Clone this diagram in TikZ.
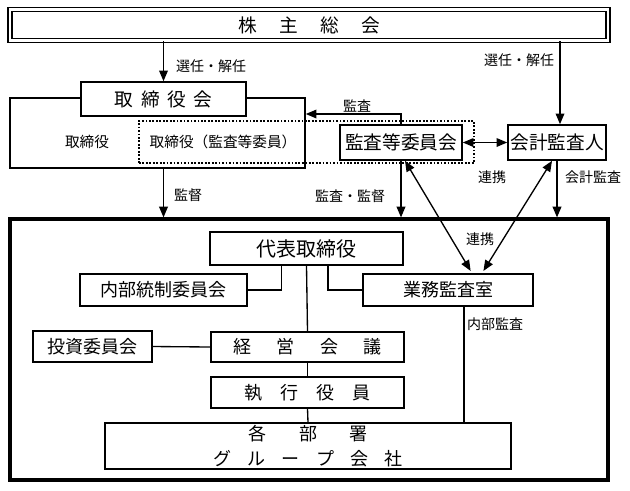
\documentclass[tikz,border=0pt]{standalone}
\usepackage{fontspec}
\setmainfont{Noto Sans CJK JP}
\usetikzlibrary{arrows.meta}
\begin{document}
\begin{tikzpicture}[x=0.75pt,y=-0.75pt,
  wh/.style 2 args={minimum width=#1*0.75pt, minimum height=#2*0.75pt},
  bx/.style={draw, line width=1.2pt, fill=white, inner sep=0pt, font=\fontsize{14}{16}\selectfont},
  mbx/.style={bx, font=\fontsize{13.5}{16}\selectfont},
  lbl/.style={inner sep=0pt, font=\fontsize{10.5}{12}\selectfont},
  arr/.style={line width=1pt, -{Triangle[length=8pt,width=6.5pt]}},
  dblarr/.style={line width=1pt, {Triangle[length=8pt,width=6.5pt]}-{Triangle[length=8pt,width=6.5pt]}},
  ln/.style={line width=1pt}]
\useasboundingbox (0,0) rectangle (630,490);
% shareholders
\node[draw, double, double distance=1.6pt, line width=1.3pt, wh={598}{31}, inner sep=0pt,
  font=\fontsize{14}{16}\selectfont] (gm) at (309,25) {株\hspace{1.2em}主\hspace{1.2em}総\hspace{1.2em}会};
% board group
\node[draw, line width=1.2pt, wh={295}{70}, inner sep=0pt] (bdgrp) at (157.5,133) {};
\node[draw, line width=1.2pt, dash pattern=on 1.3pt off 1.3pt, wh={335}{42}, inner sep=0pt] (acgrp) at (306.5,142) {};
\node[bx, wh={165}{34}] (bd) at (163.5,99) {取\hspace{0.4em}締\hspace{0.4em}役\hspace{0.4em}会};
\node[lbl, font=\fontsize{11}{13}\selectfont] (d1) at (87,142) {取締役};
\node[lbl, font=\fontsize{11}{13}\selectfont] (d2) at (223,142) {取締役（監査等委員）};
\node[bx, wh={122}{35}] (ak) at (401,142.5) {監査等委員会};
\node[bx, wh={98}{35}] (ac) at (557,142.5) {会計監査人};
% company box
\node[draw, line width=2.4pt, wh={598}{261}, inner sep=0pt] (co) at (309,349.5) {};
\node[bx, wh={193}{33}, font=\fontsize{15}{17}\selectfont] (dr) at (306.5,248.5) {代表取締役};
\node[mbx, wh={167}{32}] (ic) at (163.5,290) {内部統制委員会};
\node[mbx, wh={170}{32}] (gy) at (448,290) {業務監査室};
\node[mbx, wh={119}{31}] (ti) at (92.5,346.5) {投資委員会};
\node[mbx, wh={193}{30}] (km) at (307.5,347) {経\hspace{1.4em}営\hspace{1.4em}会\hspace{1.4em}議};
\node[mbx, wh={193}{31}] (sy) at (307.5,392.5) {執\hspace{1em}行\hspace{1em}役\hspace{1em}員};
\node[mbx, wh={406}{46}, align=center, font=\fontsize{13.5}{19}\selectfont] (kb) at (308,446)
  {各\hspace{1.8em}部\hspace{1.8em}署\\グ\hspace{0.9em}ル\hspace{0.9em}ー\hspace{0.9em}プ\hspace{0.9em}会\hspace{0.9em}社};
% helper coordinates
\coordinate (xacin) at (560,0);
\coordinate (ky) at (0,114);
\coordinate (xia) at (464,0);
% connectors
\draw[arr] (gm.south -| bd) -- (bd.north);
\draw[arr] (gm.south -| xacin) -- (ac.north -| xacin);
\draw[arr] (bdgrp.south -| bd) -- (co.north -| bd);
\draw[arr] (ak.north) |- (bdgrp.east |- ky);
\draw[dblarr] (ak.east) -- (ac.west);
\draw[arr] (ak.south) -- (co.north -| ak.south);
\draw[arr] (ac.south) -- (co.north -| ac.south);
\draw[dblarr, shorten >=2pt] ([xshift=3pt]ak.south) -- ([xshift=18pt]gy.north);
\draw[dblarr, shorten >=2pt] ([xshift=-3.75pt]ac.south) -- ([xshift=25.5pt]gy.north);
\draw[ln] ([xshift=-19pt]dr.south) |- (ic.east);
\draw[ln] ([xshift=16pt]dr.south) |- (gy.west);
\draw[ln] (dr.south) -- (km.north);
\draw[ln] (ti.east) -- (km.west);
\draw[ln] (km.south) -- (sy.north);
\draw[ln] (sy.south) -- (kb.north);
\draw[ln] (gy.south -| xia) -- (kb.north -| xia);
% labels
\node[lbl] (l1) at (211,66) {選任・解任};
\node[lbl] (l2) at (519,60) {選任・解任};
\node[lbl] (l3) at (357,106) {監査};
\node[lbl] (l4) at (188,195) {監督};
\node[lbl] (l5) at (350,196) {監査・監督};
\node[lbl] (l6) at (492,177) {連携};
\node[lbl] (l7) at (593,177) {会計監査};
\node[lbl] (l8) at (480,239) {連携};
\node[lbl] (l9) at (495,324) {内部監査};
\end{tikzpicture}
\end{document}
